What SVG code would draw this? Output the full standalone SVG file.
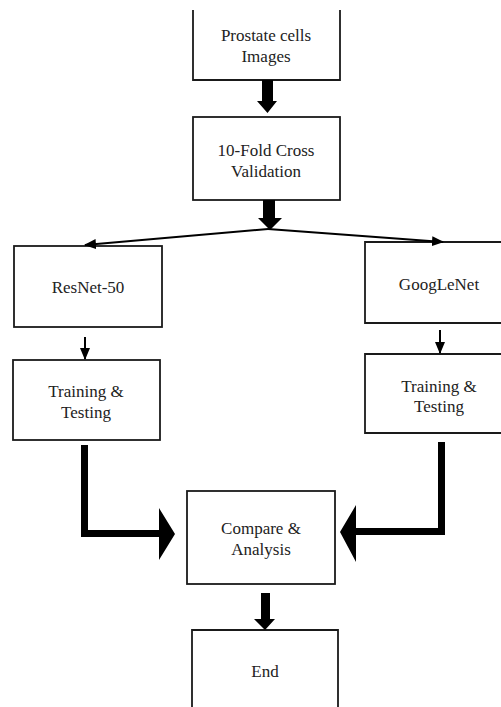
<svg xmlns="http://www.w3.org/2000/svg" width="501" height="707" viewBox="0 0 501 707">
<defs>
<style>
.box{fill:#fff;stroke:#1a1a1a;stroke-width:1.8}
.t{font-family:"Liberation Serif","Times New Roman",serif;font-size:17px;fill:#222;text-anchor:middle}
.ln{stroke:#000;stroke-width:2;fill:none}
.fat{fill:#000}
</style>
<marker id="ah" markerWidth="12" markerHeight="10" refX="11" refY="5" orient="auto" markerUnits="userSpaceOnUse">
<path d="M0,0 L12,5 L0,10 Z" fill="#000"/>
</marker>
</defs>
<rect width="501" height="707" fill="#fff"/>
<g id="n1"><path class="box" d="M193,10 V80 H340 V10"/><text class="t" x="266" y="41">Prostate cells</text><text class="t" x="266" y="62">Images</text></g>
<g id="n2"><rect class="box" x="193" y="117" width="147" height="83"/><text class="t" x="266" y="156">10-Fold Cross</text><text class="t" x="266" y="177">Validation</text></g>
<g id="n3"><rect class="box" x="14" y="246" width="148" height="81"/><text class="t" x="88" y="293">ResNet-50</text></g>
<g id="n4"><path class="box" d="M502,242 H365 V323 H502"/><text class="t" x="439" y="290">GoogLeNet</text></g>
<g id="n5"><rect class="box" x="13" y="360" width="147" height="80"/><text class="t" x="86" y="397">Training &amp;</text><text class="t" x="86" y="418">Testing</text></g>
<g id="n6"><path class="box" d="M502,354 H365 V433 H502"/><text class="t" x="439" y="392">Training &amp;</text><text class="t" x="439" y="412">Testing</text></g>
<g id="n7"><rect class="box" x="187" y="491" width="148" height="93"/><text class="t" x="261" y="534">Compare &amp;</text><text class="t" x="261" y="555">Analysis</text></g>
<g id="n8"><path class="box" d="M192,708 V630 H338 V708"/><text class="t" x="265" y="677">End</text></g>
<g id="connectors">
<polygon class="fat" points="262,80 273,80 273,101 277,101 267.5,113 257,101 262,101"/>
<polygon class="fat" points="263,200 275,200 275,218 282,218 270,230 258,218 263,218"/>
<line class="ln" x1="268" y1="229" x2="85" y2="245" marker-end="url(#ah)"/>
<line class="ln" x1="268" y1="229" x2="443" y2="242" marker-end="url(#ah)"/>
<line class="ln" x1="85" y1="337" x2="85" y2="359" marker-end="url(#ah)"/>
<line class="ln" x1="440" y1="330" x2="440" y2="353" marker-end="url(#ah)"/>
<polygon class="fat" points="81,445 88,445 88,530 159,530 159,508 175,534 159,560 159,537 81,537"/>
<polygon class="fat" points="438,442 445,442 445,535 356,535 356,562 340,532 356,505 356,528 438,528"/>
<polygon class="fat" points="261,593 270,593 270,619 275,619 265,630 254,619 261,619"/>
</g>
</svg>
